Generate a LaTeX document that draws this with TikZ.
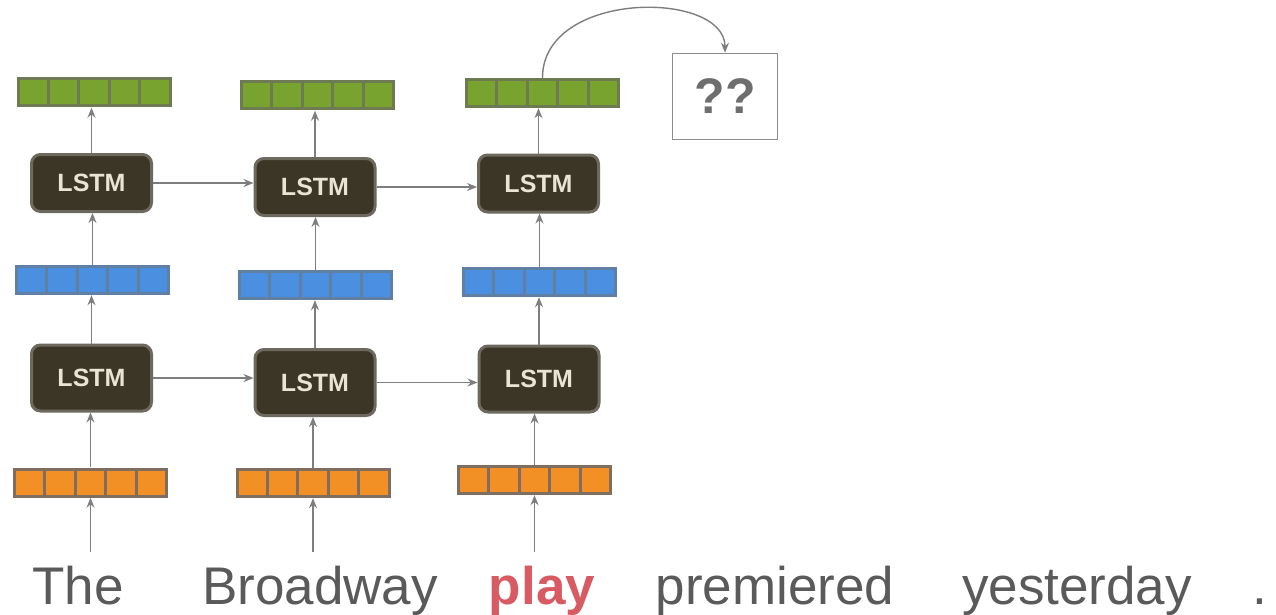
\documentclass[tikz,border=0pt]{standalone}
\usepackage{fontspec}
\setmainfont{Liberation Sans}
\usetikzlibrary{arrows.meta,calc}

\definecolor{wordgray}{HTML}{5A5A5A}
\definecolor{playred}{HTML}{D85A62}
\definecolor{arrgray}{HTML}{7E7E7E}
\definecolor{boxgray}{HTML}{8C8C8C}
\definecolor{qgray}{HTML}{6E6E6E}
\definecolor{lstmfill}{HTML}{3C3626}
\definecolor{lstmedge}{HTML}{6E695E}
\definecolor{lstmtext}{HTML}{E8E4D6}
\definecolor{gframe}{HTML}{6D7A52}
\definecolor{gcell}{HTML}{78A32F}
\definecolor{bframe}{HTML}{5F7FA3}
\definecolor{bcell}{HTML}{4A8FE0}
\definecolor{oframe}{HTML}{7F6E5F}
\definecolor{ocell}{HTML}{F29026}

\tikzset{
  vec/.style 2 args={fill=#1, inner sep=0pt, minimum width=155pt, minimum height=30pt,
    path picture={
      \foreach \i in {0,...,4}{
        \fill[#2] ($(path picture bounding box.south west)+(3pt+\i*30.4pt,3pt)$)
          rectangle +(27.4pt,24pt);
      }}},
  gvec/.style={vec={gframe}{gcell}},
  bvec/.style={vec={bframe}{bcell}},
  ovec/.style={vec={oframe}{ocell}},
  lstm/.style={draw=lstmedge, line width=3pt, fill=lstmfill, rounded corners=9pt,
    minimum width=120pt, inner sep=0pt, text=lstmtext,
    font=\fontsize{25}{30}\selectfont\bfseries},
  lstmtop/.style={lstm, minimum height=57pt},
  lstmbot/.style={lstm, minimum height=66pt},
  arr/.style={draw=arrgray, line width=1.4pt, -{Stealth[length=10pt,width=8pt]}},
  word/.style={font=\fontsize{53}{60}\selectfont, text=wordgray, anchor=base,
    inner sep=0pt, text height=40pt, text depth=12pt},
  qbox/.style={draw=boxgray, line width=1.5pt, minimum width=105pt, minimum height=86pt,
    inner sep=0pt, text=qgray, font=\fontsize{50}{56}\selectfont\bfseries}
}

\begin{document}
\begin{tikzpicture}[x=1pt,y=-1pt]
  \useasboundingbox (0,0) rectangle (1276,615);
  \fill[white] (0,0) rectangle (1276,615);

  % column 1
  \node[gvec] (g1) at (94,92.5) {};
  \node[lstmtop] (t1) at (91.5,183) {LSTM};
  \node[bvec] (b1) at (92.5,280) {};
  \node[lstmbot] (l1) at (91.5,378) {LSTM};
  \node[ovec] (o1) at (90.5,482.5) {};

  % column 2
  \node[gvec] (g2) at (317.5,95.5) {};
  \node[lstmtop] (t2) at (315,187) {LSTM};
  \node[bvec] (b2) at (315.5,285) {};
  \node[lstmbot] (l2) at (315,382.5) {LSTM};
  \node[ovec] (o2) at (313,483) {};

  % column 3
  \node[gvec] (g3) at (542.5,93) {};
  \node[lstmtop] (t3) at (538.5,183.5) {LSTM};
  \node[bvec] (b3) at (539.5,282) {};
  \node[lstmbot] (l3) at (539,379) {LSTM};
  \node[ovec] (o3) at (534.5,480) {};

  % prediction box
  \node[qbox] (q) at (725,96.5) {??};

  % input words
  \node[word] (w1) at (78,604) {The};
  \node[word] (w2) at (320,604) {Broadway};
  \node[word, text=playred, font=\fontsize{53}{60}\selectfont\bfseries] (w3) at (542,604) {play};
  \node[word] (w4) at (775,604) {premiered};
  \node[word] (w5) at (1077,604) {yesterday};
  \node[word] (w6) at (1260,604) {.};

  % words into embeddings
  \foreach \w/\o in {w1/o1, w2/o2, w3/o3}{
    \draw[arr] ([yshift=12pt]\o.south |- \w.north) -- (\o.south);
  }

  % vertical flow inside each column
  \foreach \o/\l/\b/\t/\g in {o1/l1/b1/t1/g1, o2/l2/b2/t2/g2, o3/l3/b3/t3/g3}{
    \draw[arr] (\o.north) -- (\o.north |- \l.south);
    \draw[arr] (\l.north) -- (\l.north |- \b.south);
    \draw[arr] (\b.north) -- (\b.north |- \t.south);
    \draw[arr] (\t.north) -- (\t.north |- \g.south);
  }

  % recurrent connections
  \draw[arr] (t1.east) -- (t1.east -| t2.west);
  \draw[arr] (t2.east) -- (t2.east -| t3.west);
  \draw[arr] (l1.east) -- (l1.east -| l2.west);
  \draw[arr] (l2.east) -- (l2.east -| l3.west);

  % output to prediction
  \draw[arr] (g3.north) .. controls ([yshift=88pt]g3.north) and ([yshift=63pt]q.north) .. (q.north);
\end{tikzpicture}
\end{document}
